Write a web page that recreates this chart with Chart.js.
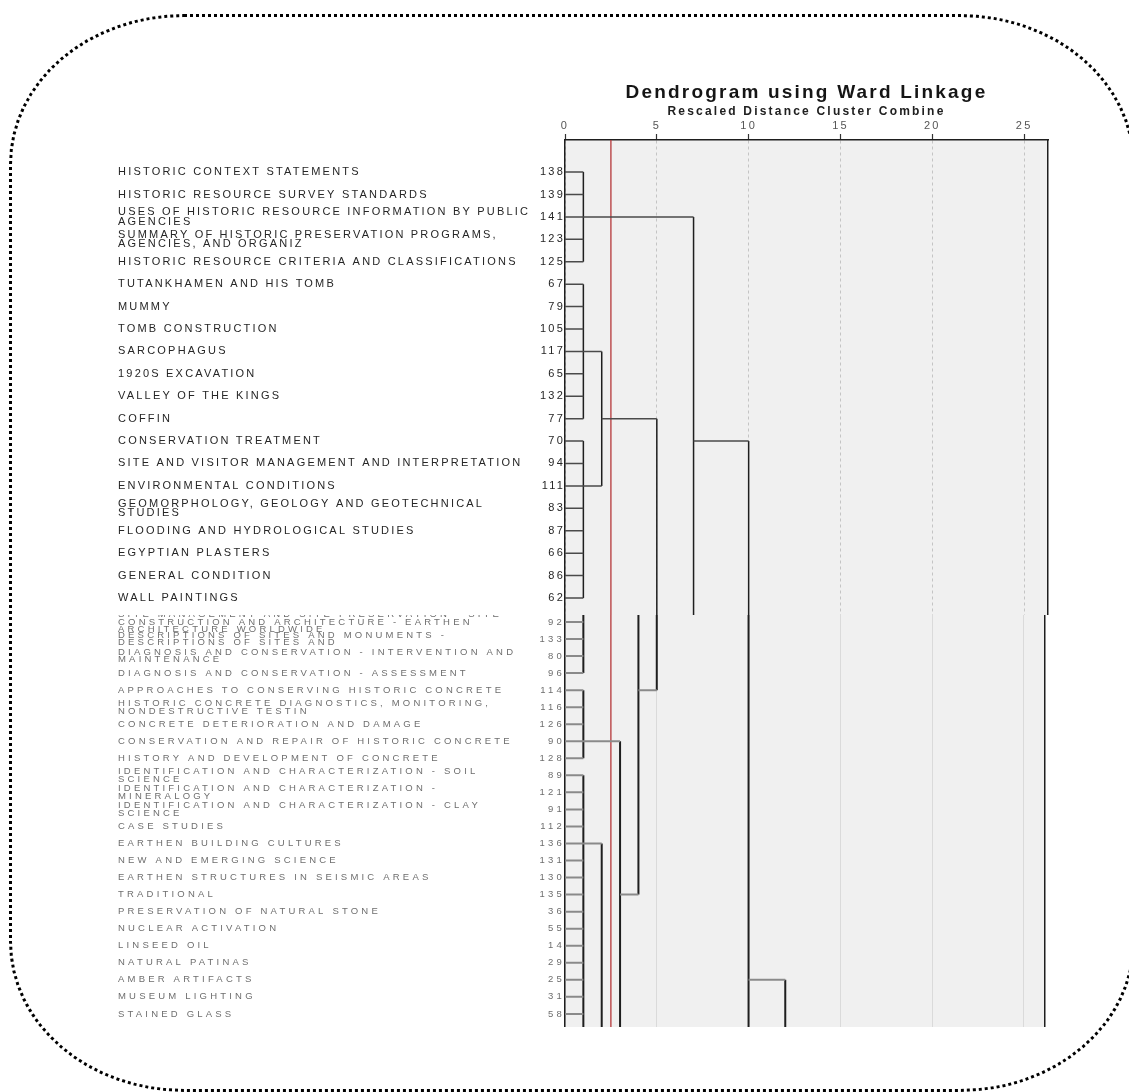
<!DOCTYPE html>
<html>
<head>
<meta charset="utf-8">
<title>Dendrogram using Ward Linkage</title>
<script src="https://cdn.jsdelivr.net/npm/chart.js@4.4.1/dist/chart.umd.min.js"></script>
<style>
  body { margin: 0; background: #fff; }
  #frame { position: absolute; left: 9px; top: 14px; width: 1126px; height: 1078px; box-sizing: border-box;
           border: 3px dotted #000; border-radius: 175px / 150px; pointer-events: none; }
  #chartTop { position: absolute; left: 0; top: 0; }
  #chartLow { position: absolute; left: 0; top: 615px; }
</style>
</head>
<body>
<div id="frame"></div>
<canvas id="chartTop" width="1129" height="615"></canvas>
<canvas id="chartLow" width="1129" height="412"></canvas>
<script>
// rows of the upper part, top to bottom
var topNames = [
  'HISTORIC CONTEXT STATEMENTS',
  'HISTORIC RESOURCE SURVEY STANDARDS',
  ['USES OF HISTORIC RESOURCE INFORMATION BY PUBLIC', 'AGENCIES'],
  ['SUMMARY OF HISTORIC PRESERVATION PROGRAMS,', 'AGENCIES, AND ORGANIZ'],
  'HISTORIC RESOURCE CRITERIA AND CLASSIFICATIONS',
  'TUTANKHAMEN AND HIS TOMB',
  'MUMMY',
  'TOMB CONSTRUCTION',
  'SARCOPHAGUS',
  '1920S EXCAVATION',
  'VALLEY OF THE KINGS',
  'COFFIN',
  'CONSERVATION TREATMENT',
  'SITE AND VISITOR MANAGEMENT AND INTERPRETATION',
  'ENVIRONMENTAL CONDITIONS',
  ['GEOMORPHOLOGY, GEOLOGY AND GEOTECHNICAL', 'STUDIES'],
  'FLOODING AND HYDROLOGICAL STUDIES',
  'EGYPTIAN PLASTERS',
  'GENERAL CONDITION',
  'WALL PAINTINGS'
];
var topIds = [138, 139, 141, 123, 125, 67, 79, 105, 117, 65, 132, 77, 70, 94, 111, 83, 87, 66, 86, 62];

// rows of the lower part
var lowNames = [
  ['SITE MANAGEMENT AND SITE PRESERVATION - SITE', 'CONSTRUCTION AND ARCHITECTURE - EARTHEN', 'ARCHITECTURE WORLDWIDE'],
  ['DESCRIPTIONS OF SITES AND MONUMENTS -', 'DESCRIPTIONS OF SITES AND'],
  ['DIAGNOSIS AND CONSERVATION - INTERVENTION AND', 'MAINTENANCE'],
  'DIAGNOSIS AND CONSERVATION - ASSESSMENT',
  'APPROACHES TO CONSERVING HISTORIC CONCRETE',
  ['HISTORIC CONCRETE DIAGNOSTICS, MONITORING,', 'NONDESTRUCTIVE TESTIN'],
  'CONCRETE DETERIORATION AND DAMAGE',
  'CONSERVATION AND REPAIR OF HISTORIC CONCRETE',
  'HISTORY AND DEVELOPMENT OF CONCRETE',
  ['IDENTIFICATION AND CHARACTERIZATION - SOIL', 'SCIENCE'],
  ['IDENTIFICATION AND CHARACTERIZATION -', 'MINERALOGY'],
  ['IDENTIFICATION AND CHARACTERIZATION - CLAY', 'SCIENCE'],
  'CASE STUDIES',
  'EARTHEN BUILDING CULTURES',
  'NEW AND EMERGING SCIENCE',
  'EARTHEN STRUCTURES IN SEISMIC AREAS',
  'TRADITIONAL',
  'PRESERVATION OF NATURAL STONE',
  'NUCLEAR ACTIVATION',
  'LINSEED OIL',
  'NATURAL PATINAS',
  'AMBER ARTIFACTS',
  'MUSEUM LIGHTING',
  'STAINED GLASS'
];
var lowIds = [92, 133, 80, 96, 114, 116, 126, 90, 128, 89, 121, 91, 112, 136, 131, 130, 135, 36, 55, 14, 29, 25, 31, 58];

// rescaled distance axis
var distTicks = [0, 5, 10, 15, 20, 25];
var cutOff = 2.5;
var leafJoin = 1;

// links: horizontal [row, fromDist, toDist], vertical [dist, fromRow, toRow]
// 'start' / 'end' = the link runs past the edge of that part
var topHoriz = [[2, 1, 7], [8, 1, 2], [14, 1, 2], [11, 2, 5], [12, 7, 10]];
var topVert = [[1, 0, 4], [1, 5, 11], [1, 12, 19], [2, 8, 14], [7, 2, 'end'], [5, 11, 'end'], [10, 12, 'end']];
var lowHoriz = [[7, 1, 3], [13, 1, 2], [16, 3, 4], [4, 4, 5], [21, 10, 12]];
var lowVert = [[1, 'start', 3], [1, 4, 8], [1, 9, 'end'], [2, 13, 'end'], [3, 7, 'end'],
               [4, 'start', 16], [5, 'start', 4], [10, 'start', 'end'], [12, 21, 'end']];

Chart.defaults.font.family = "'Liberation Sans', Arial, sans-serif";

// letter spacing for all text of a chart (the picture is stretched sideways)
var spacing = {
  id: 'spacing',
  beforeUpdate: function (chart, args, opts) { chart.ctx.letterSpacing = opts.px + 'px'; },
  beforeDraw: function (chart, args, opts) { chart.ctx.letterSpacing = opts.px + 'px'; }
};
// grey plot background
var plotBg = {
  id: 'plotBg',
  beforeDraw: function (chart, args, opts) {
    var a = chart.chartArea, ctx = chart.ctx;
    ctx.save();
    ctx.fillStyle = opts.color;
    ctx.fillRect(a.left, a.top, a.right - a.left, a.bottom - a.top);
    ctx.restore();
  }
};

function noPad(s) { s.paddingTop = 0; s.paddingBottom = 0; s.paddingLeft = 0; s.paddingRight = 0; }

function makeChart(id, o) {
  var edge = function (e) { return e === 'start' ? o.yMin : (e === 'end' ? o.yMax : e); };
  var gap = {x: null, y: null};
  var hPts = [], vPts = [];
  o.names.forEach(function (n, i) { hPts.push({x: 0, y: i}, {x: leafJoin, y: i}, gap); });
  o.horiz.forEach(function (h) { hPts.push({x: h[1], y: h[0]}, {x: h[2], y: h[0]}, gap); });
  o.vert.forEach(function (v) { vPts.push({x: v[0], y: edge(v[1])}, {x: v[0], y: edge(v[2])}, gap); });
  var rowTicks = function (s) { s.ticks = o.names.map(function (n, i) { return {value: i}; }); };
  var yBase = {type: 'linear', axis: 'y', min: o.yMin, max: o.yMax, reverse: true};

  return new Chart(document.getElementById(id), {
    type: 'scatter',
    data: {
      datasets: [
        {data: hPts, showLine: true, borderColor: o.hColor, borderWidth: o.lineW, pointRadius: 0, yAxisID: 'yNum'},
        {data: vPts, showLine: true, borderColor: '#1e1e1e', borderWidth: o.lineW, pointRadius: 0, yAxisID: 'yNum'},
        {data: [{x: cutOff, y: o.yMin}, {x: cutOff, y: o.yMax}], showLine: true, borderColor: '#b5383a',
         borderWidth: 1.3, pointRadius: 0, yAxisID: 'yNum'}
      ]
    },
    options: {
      responsive: false,
      animation: false,
      events: [],
      layout: {padding: {left: 118, right: o.padRight, top: o.padTop, bottom: 0}},
      plugins: {
        legend: {display: false},
        tooltip: {enabled: false},
        title: {display: o.showHead, text: 'Dendrogram using Ward Linkage', fullSize: false, padding: 0,
                color: '#151515', font: {size: 19, weight: 'bold', lineHeight: 1.2}},
        subtitle: {display: o.showHead, text: 'Rescaled Distance Cluster Combine', fullSize: false,
                   padding: {top: 0, bottom: 1}, color: '#202020', font: {size: 12, weight: 'bold', lineHeight: 1.2}},
        spacing: {px: o.letter},
        plotBg: {color: '#f0f0f0'}
      },
      scales: {
        x: {
          type: 'linear', position: 'top', min: 0, max: o.xMax,
          afterBuildTicks: function (s) { s.ticks = distTicks.map(function (v) { return {value: v}; }); },
          afterFit: function (s) { s.height = o.axisH; noPad(s); },
          ticks: {display: o.showHead, padding: 1, color: '#555', font: {size: 11}},
          grid: {color: o.gridColor, drawTicks: o.showHead, tickLength: 6, tickColor: '#333', tickWidth: 1.2},
          border: {display: o.showHead, color: '#1e1e1e', width: 1.5, dash: o.gridDash}
        },
        // names: mirrored so long names are not clipped and may run into the ids
        yName: Object.assign({}, yBase, {
          position: 'left', weight: 1,
          afterBuildTicks: rowTicks,
          afterFit: function (s) { s.width = 0; noPad(s); },
          ticks: {mirror: true, padding: 0, autoSkip: false, color: o.textColor,
                  font: {size: o.fontSize, lineHeight: o.lineH},
                  callback: function (v) { return o.names[v]; }},
          grid: {display: false, drawTicks: false},
          border: {display: false}
        }),
        yNum: Object.assign({}, yBase, {
          position: 'left', weight: 0,
          afterBuildTicks: rowTicks,
          afterFit: function (s) { s.width = 447; noPad(s); },
          ticks: {padding: 0, autoSkip: false, color: o.textColor, font: {size: o.fontSize},
                  callback: function (v) { return o.ids[v]; }},
          grid: {display: false, drawTicks: false},
          border: {display: true, color: '#1e1e1e', width: 1.5}
        }),
        yEdge: Object.assign({}, yBase, {
          position: 'right',
          afterFit: function (s) { s.width = 0; noPad(s); },
          ticks: {display: false},
          grid: {display: false, drawTicks: false},
          border: {display: true, color: '#1e1e1e', width: 1.5}
        })
      }
    },
    plugins: [spacing, plotBg]
  });
}

makeChart('chartTop', {
  names: topNames, ids: topIds, horiz: topHoriz, vert: topVert,
  yMin: -1.43, yMax: 19.76, xMax: 26.3,
  showHead: true, padTop: 81.8, padRight: 81, axisH: 20,
  fontSize: 11, lineH: 0.85, letter: 2.2, textColor: '#262626',
  hColor: '#4a4a4a', lineW: 1.5, gridColor: '#c4c4c4', gridDash: [3, 3]
});

makeChart('chartLow', {
  names: lowNames, ids: lowIds, horiz: lowHoriz, vert: lowVert,
  yMin: -0.41, yMax: 23.77, xMax: 26.15,
  showHead: false, padTop: 0, padRight: 84, axisH: 0,
  fontSize: 9.5, lineH: 0.78, letter: 3.2, textColor: '#6e6e6e',
  hColor: '#8a8a8a', lineW: 2, gridColor: '#dadada', gridDash: []
});
</script>
</body>
</html>
